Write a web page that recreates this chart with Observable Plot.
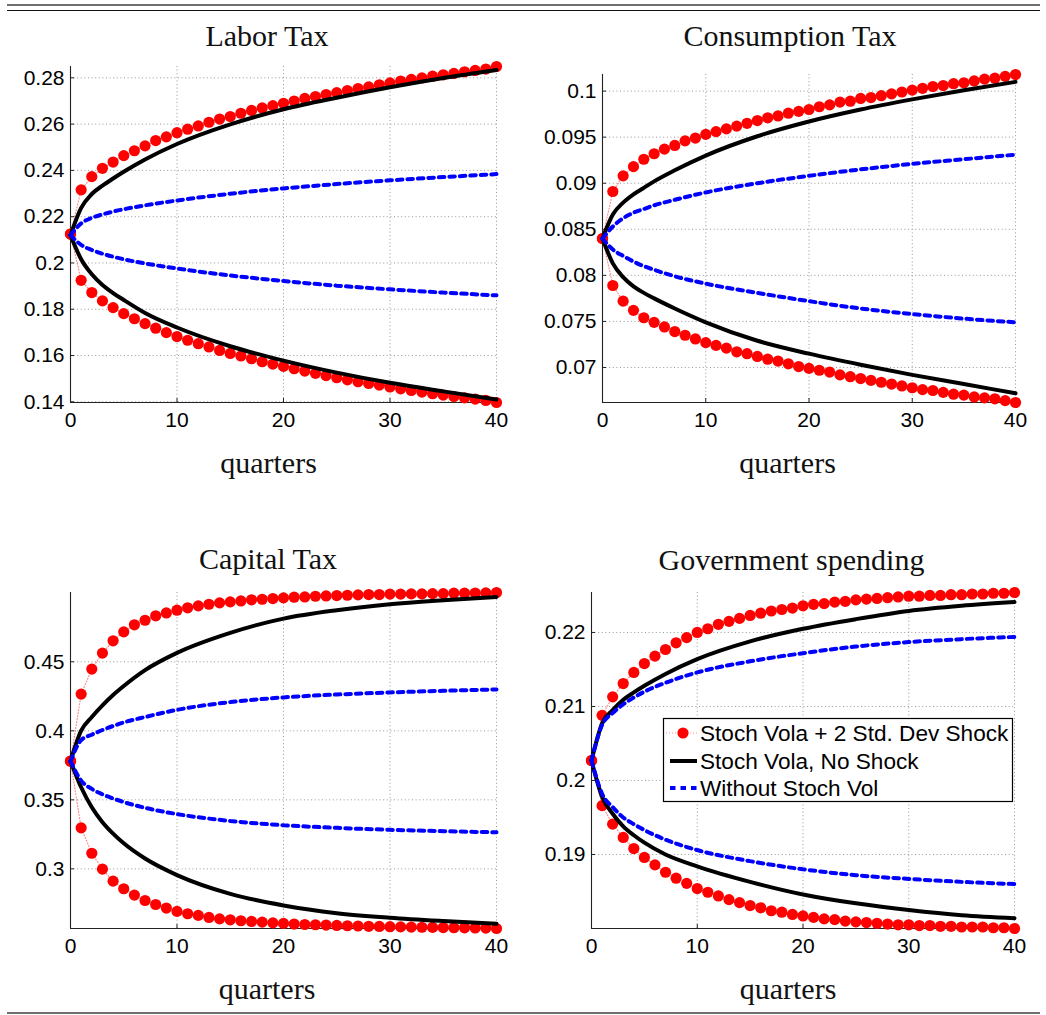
<!DOCTYPE html>
<html><head><meta charset="utf-8">
<script src="https://cdn.jsdelivr.net/npm/d3@7"></script>
<script src="https://cdn.jsdelivr.net/npm/@observablehq/plot@0.6"></script>
<style>
body{margin:0;background:#fff;}
#root{position:relative;width:1046px;height:1015px;overflow:hidden;background:#fff;}
.hrule{position:absolute;left:7px;width:1033px;}
.panel{position:absolute;}
.panel svg{overflow:visible;display:block;}
</style></head><body><div id="root">
<div class="hrule" style="top:4px;height:2px;background:#707070"></div>
<div class="hrule" style="top:10px;height:1.4px;background:#111"></div>
<div class="hrule" style="top:1012px;height:2px;background:#707070"></div>
</div>
<script>
// ---------------- data ----------------
const quarters = [0,1,2,3,4,5,6,7,8,9,10,11,12,13,14,15,16,17,18,19,20,21,22,23,24,25,26,27,28,29,30,31,32,33,34,35,36,37,38,39,40];
const lineQuarters = [0,1,2,3,4,5,7,10,15,20,25,30,35,40];
const xTicks = [0,10,20,30,40];
const panelTitles = ["Labor Tax","Consumption Tax","Capital Tax","Government spending"];
const xLabel = "quarters";
const legendLabels = ["Stoch Vola + 2 Std. Dev Shock","Stoch Vola, No Shock","Without Stoch Vol"];

// Labor Tax
const laborRedUp = [0.2125,0.2316,0.2373,0.2409,0.2436,0.2464,0.2485,0.2506,0.2529,0.2545,0.2563,0.2578,0.2592,0.2608,0.2622,0.2633,0.2647,0.2659,0.2670,0.2680,0.2690,0.2700,0.2711,0.2719,0.2728,0.2736,0.2745,0.2754,0.2761,0.2770,0.2778,0.2786,0.2793,0.2800,0.2807,0.2813,0.2819,0.2826,0.2832,0.2838,0.2849];
const laborRedLo = [0.2125,0.1925,0.1872,0.1836,0.1807,0.1781,0.1759,0.1738,0.1718,0.1699,0.1682,0.1666,0.1651,0.1637,0.1622,0.1609,0.1598,0.1586,0.1573,0.1563,0.1553,0.1543,0.1533,0.1523,0.1513,0.1504,0.1495,0.1487,0.1479,0.1472,0.1464,0.1456,0.1449,0.1442,0.1435,0.1429,0.1423,0.1417,0.1412,0.1406,0.1397];
const laborBlackUp = [0.2120,0.2238,0.2298,0.2334,0.2365,0.2394,0.2447,0.2514,0.2599,0.2664,0.2714,0.2759,0.2799,0.2834];
const laborBlackLo = [0.2120,0.2016,0.1951,0.1905,0.1870,0.1840,0.1784,0.1721,0.1640,0.1578,0.1526,0.1482,0.1445,0.1410];
const laborBlueUp = [0.2120,0.2171,0.2195,0.2210,0.2222,0.2232,0.2249,0.2270,0.2299,0.2322,0.2341,0.2357,0.2371,0.2384];
const laborBlueLo = [0.2120,0.2078,0.2056,0.2040,0.2027,0.2016,0.1998,0.1976,0.1946,0.1922,0.1902,0.1886,0.1872,0.1860];
const laborTicks = [0.14,0.16,0.18,0.2,0.22,0.24,0.26,0.28];

// Consumption Tax
const consRedUp = [0.0840,0.0891,0.0908,0.0918,0.0926,0.0932,0.0937,0.0941,0.0946,0.0949,0.0953,0.0956,0.0959,0.0962,0.0965,0.0968,0.0971,0.0973,0.0976,0.0978,0.0980,0.0983,0.0985,0.0988,0.0989,0.0992,0.0993,0.0995,0.0997,0.0999,0.1001,0.1003,0.1005,0.1006,0.1008,0.1009,0.1011,0.1013,0.1014,0.1016,0.1018];
const consRedLo = [0.0840,0.0789,0.0772,0.0762,0.0754,0.0749,0.0744,0.0739,0.0735,0.0731,0.0727,0.0724,0.0721,0.0717,0.0715,0.0712,0.0709,0.0707,0.0704,0.0701,0.0699,0.0697,0.0695,0.0692,0.0690,0.0688,0.0686,0.0684,0.0682,0.0680,0.0678,0.0676,0.0675,0.0673,0.0671,0.0670,0.0668,0.0667,0.0666,0.0664,0.0662];
const consBlackUp = [0.0840,0.0866,0.0879,0.0888,0.0895,0.0902,0.0914,0.0930,0.0951,0.0967,0.0980,0.0991,0.1001,0.1010];
const consBlackLo = [0.0840,0.0813,0.0798,0.0788,0.0781,0.0775,0.0764,0.0749,0.0729,0.0715,0.0703,0.0692,0.0682,0.0672];
const consBlueUp = [0.0840,0.0853,0.0862,0.0868,0.0872,0.0876,0.0882,0.0890,0.0900,0.0908,0.0915,0.0921,0.0926,0.0931];
const consBlueLo = [0.0840,0.0828,0.0821,0.0815,0.0810,0.0806,0.0799,0.0791,0.0781,0.0772,0.0764,0.0758,0.0753,0.0749];
const consTicks = [0.07,0.075,0.08,0.085,0.09,0.095,0.1];

// Capital Tax
const capRedUp = [0.3781,0.4266,0.4447,0.4563,0.4652,0.4717,0.4768,0.4801,0.4833,0.4854,0.4874,0.4891,0.4905,0.4917,0.4927,0.4934,0.4941,0.4949,0.4953,0.4958,0.4963,0.4968,0.4970,0.4975,0.4977,0.4980,0.4982,0.4985,0.4987,0.4987,0.4990,0.4990,0.4992,0.4992,0.4994,0.4994,0.4997,0.4997,0.4998,0.4999,0.5002];
const capRedLo = [0.3780,0.3297,0.3113,0.2998,0.2911,0.2856,0.2810,0.2771,0.2742,0.2716,0.2692,0.2675,0.2663,0.2648,0.2638,0.2631,0.2624,0.2619,0.2614,0.2609,0.2605,0.2600,0.2597,0.2595,0.2593,0.2590,0.2588,0.2586,0.2584,0.2583,0.2581,0.2580,0.2578,0.2577,0.2576,0.2575,0.2574,0.2573,0.2572,0.2571,0.2568];
const capBlackUp = [0.3780,0.4001,0.4100,0.4185,0.4260,0.4325,0.4440,0.4565,0.4710,0.4813,0.4874,0.4917,0.4946,0.4970];
const capBlackLo = [0.3780,0.3591,0.3446,0.3338,0.3255,0.3185,0.3075,0.2955,0.2819,0.2735,0.2679,0.2646,0.2622,0.2602];
const capBlueUp = [0.3780,0.3933,0.3972,0.4006,0.4035,0.4061,0.4100,0.4152,0.4208,0.4242,0.4263,0.4278,0.4290,0.4300];
const capBlueLo = [0.3780,0.3639,0.3579,0.3540,0.3510,0.3484,0.3442,0.3397,0.3347,0.3316,0.3297,0.3283,0.3273,0.3265];
const capTicks = [0.3,0.35,0.4,0.45];

// Government spending
const govRedUp = [0.2027,0.2088,0.2113,0.2131,0.2146,0.2158,0.2168,0.2177,0.2186,0.2193,0.2200,0.2205,0.2211,0.2215,0.2219,0.2223,0.2226,0.2229,0.2231,0.2233,0.2236,0.2238,0.2239,0.2241,0.2242,0.2244,0.2245,0.2246,0.2247,0.2248,0.2249,0.2249,0.2250,0.2250,0.2251,0.2251,0.2252,0.2252,0.2253,0.2253,0.2254];
const govRedLo = [0.2027,0.1966,0.1941,0.1923,0.1908,0.1896,0.1886,0.1876,0.1868,0.1861,0.1854,0.1849,0.1844,0.1839,0.1835,0.1831,0.1828,0.1824,0.1822,0.1819,0.1817,0.1815,0.1813,0.1812,0.1810,0.1809,0.1808,0.1807,0.1806,0.1805,0.1805,0.1804,0.1804,0.1803,0.1803,0.1802,0.1802,0.1802,0.1801,0.1801,0.1800];
const govBlackUp = [0.2027,0.2077,0.2095,0.2109,0.2119,0.2128,0.2144,0.2164,0.2188,0.2205,0.2218,0.2229,0.2236,0.2241];
const govBlackLo = [0.2027,0.1978,0.1955,0.1938,0.1926,0.1916,0.1900,0.1884,0.1863,0.1846,0.1834,0.1825,0.1818,0.1814];
const govBlueUp = [0.2027,0.2075,0.2091,0.2103,0.2112,0.2120,0.2132,0.2146,0.2161,0.2172,0.2181,0.2187,0.2191,0.2194];
const govBlueLo = [0.2027,0.1982,0.1964,0.1950,0.1941,0.1933,0.1920,0.1906,0.1891,0.1880,0.1872,0.1867,0.1863,0.1860];
const govTicks = [0.19,0.2,0.21,0.22];

// ---------------- layout ----------------
const RED = "#ff0000", BLACK = "#000000", BLUE = "#0000ff";
const SANS = "'Liberation Sans', Arial, Helvetica, sans-serif";
const SERIF = "'Liberation Serif', 'Times New Roman', serif";

const panels = [
  {title: panelTitles[0], redUp: laborRedUp, redLo: laborRedLo, blackUp: laborBlackUp, blackLo: laborBlackLo, blueUp: laborBlueUp, blueLo: laborBlueLo, yTicks: laborTicks,
   box: {left: 0, top: 15, width: 523, height: 480}, frame: {x0: 70, x1: 496, y0: 66, y1: 402}, titleC: 266.5, titleB: 45, labelC: 268, labelB: 472},
  {title: panelTitles[1], redUp: consRedUp, redLo: consRedLo, blackUp: consBlackUp, blackLo: consBlackLo, blueUp: consBlueUp, blueLo: consBlueLo, yTicks: consTicks,
   box: {left: 523, top: 15, width: 523, height: 480}, frame: {x0: 602, x1: 1015, y0: 74, y1: 402}, titleC: 789.5, titleB: 45, labelC: 787, labelB: 472},
  {title: panelTitles[2], redUp: capRedUp, redLo: capRedLo, blackUp: capBlackUp, blackLo: capBlackLo, blueUp: capBlueUp, blueLo: capBlueLo, yTicks: capTicks,
   box: {left: 0, top: 530, width: 523, height: 478}, frame: {x0: 70, x1: 496, y0: 592, y1: 928}, titleC: 267.5, titleB: 568, labelC: 266.5, labelB: 998},
  {title: panelTitles[3], redUp: govRedUp, redLo: govRedLo, blackUp: govBlackUp, blackLo: govBlackLo, blueUp: govBlueUp, blueLo: govBlueLo, yTicks: govTicks,
   box: {left: 523, top: 530, width: 523, height: 478}, frame: {x0: 591, x1: 1014, y0: 592, y1: 928}, titleC: 791, titleB: 569, labelC: 787.5, labelB: 998}
];

const root = document.getElementById("root");

function series(xs, ys) { return ys.map((v, i) => ({x: xs[i], y: v})); }

function makePanel(p) {
  const [ymin, ymax] = d3.extent([...p.redUp, ...p.redLo]);
  const f = p.frame, b = p.box;
  const fw = f.x1 - f.x0, fh = f.y1 - f.y0;
  const tickX = 40 * 4 / fw;           // 4px inward tick, in x units
  const tickY = (ymax - ymin) * 4 / fh; // 4px inward tick, in y units
  const fcx = (f.x0 + f.x1) / 2;
  const grid = {stroke: "#8c8c8c", strokeWidth: 0.9, strokeDasharray: "1,2.6"};
  const lineOpts = (stroke, extra) => Object.assign({x: "x", y: "y", stroke, strokeWidth: 4, curve: "monotone-x", strokeLinejoin: "round"}, extra || {});
  const redUp = series(quarters, p.redUp), redLo = series(quarters, p.redLo);
  const plot = Plot.plot({
    width: b.width, height: b.height,
    marginLeft: f.x0 - b.left, marginRight: b.left + b.width - f.x1,
    marginTop: f.y0 - b.top, marginBottom: b.top + b.height - f.y1,
    x: {domain: [0, 40], ticks: xTicks, tickSize: 0, tickPadding: 10, label: null, tickFormat: d => String(d)},
    y: {domain: [ymin, ymax], ticks: p.yTicks, tickSize: 0, tickPadding: 6, label: null, tickFormat: d => String(+d.toFixed(4))},
    style: {fontFamily: SANS, fontSize: "21px", color: "#000", background: "transparent", overflow: "visible"},
    marks: [
      Plot.ruleY(p.yTicks, grid),
      Plot.ruleX(xTicks.filter(d => d > 0), grid),
      Plot.ruleX([0], {stroke: "#222", strokeWidth: 1.1}),
      Plot.ruleY([ymin], {stroke: "#222", strokeWidth: 1.1}),
      Plot.ruleY(p.yTicks, {x1: 0, x2: tickX, stroke: "#222", strokeWidth: 1}),
      Plot.ruleX(xTicks, {y1: ymin, y2: ymin + tickY, stroke: "#222", strokeWidth: 1}),
      // red dotted connector + dots
      Plot.line(redUp, {x: "x", y: "y", stroke: RED, strokeWidth: 1.2, strokeDasharray: "1,2", strokeOpacity: 0.45}),
      Plot.line(redLo, {x: "x", y: "y", stroke: RED, strokeWidth: 1.2, strokeDasharray: "1,2", strokeOpacity: 0.45}),
      Plot.dot(redUp, {x: "x", y: "y", r: 5.6, fill: RED}),
      Plot.dot(redLo, {x: "x", y: "y", r: 5.6, fill: RED}),
      // black solid
      Plot.line(series(lineQuarters, p.blackUp), lineOpts(BLACK)),
      Plot.line(series(lineQuarters, p.blackLo), lineOpts(BLACK)),
      // blue dashed
      Plot.line(series(lineQuarters, p.blueUp), lineOpts(BLUE, {strokeDasharray: "5.5,5", strokeLinejoin: "miter"})),
      Plot.line(series(lineQuarters, p.blueLo), lineOpts(BLUE, {strokeDasharray: "5.5,5", strokeLinejoin: "miter"})),
      // title & x label
      Plot.text([p.title], {text: d => d, frameAnchor: "top", dx: p.titleC - fcx, dy: p.titleB - f.y0, lineAnchor: "bottom", fontFamily: SERIF, fontSize: 30, fill: "#111"}),
      Plot.text([xLabel], {text: d => d, frameAnchor: "bottom", dx: p.labelC - fcx, dy: p.labelB - f.y1, lineAnchor: "bottom", fontFamily: SERIF, fontSize: 30, fill: "#111"})
    ]
  });
  const div = document.createElement("div");
  div.className = "panel";
  div.style.left = b.left + "px";
  div.style.top = b.top + "px";
  div.style.width = b.width + "px";
  div.style.height = b.height + "px";
  div.appendChild(plot);
  root.appendChild(div);
}

panels.forEach(makePanel);

// ---------------- legend (Government spending panel) ----------------
(function legend() {
  const L = {left: 663, top: 718, width: 350, height: 84};
  const svg = d3.create("svg").attr("width", L.width).attr("height", L.height)
    .style("position", "absolute").style("left", L.left + "px").style("top", L.top + "px").style("overflow", "visible");
  svg.append("rect").attr("x", 0.5).attr("y", 0.5).attr("width", L.width - 1).attr("height", L.height - 1)
    .attr("fill", "#fff").attr("stroke", "#000").attr("stroke-width", 1.2);
  const rowY = [15, 43, 70];
  svg.append("line").attr("x1", 3).attr("x2", 34).attr("y1", rowY[0]).attr("y2", rowY[0])
    .attr("stroke", RED).attr("stroke-width", 1.2).attr("stroke-dasharray", "1,2").attr("stroke-opacity", 0.45);
  svg.append("circle").attr("cx", 20).attr("cy", rowY[0]).attr("r", 5.6).attr("fill", RED);
  svg.append("line").attr("x1", 7).attr("x2", 34).attr("y1", rowY[1]).attr("y2", rowY[1])
    .attr("stroke", BLACK).attr("stroke-width", 4);
  svg.append("line").attr("x1", 7).attr("x2", 34).attr("y1", rowY[2]).attr("y2", rowY[2])
    .attr("stroke", BLUE).attr("stroke-width", 4).attr("stroke-dasharray", "5.5,5");
  legendLabels.forEach((t, i) => {
    svg.append("text").attr("x", 37).attr("y", rowY[i]).attr("dy", "0.35em")
      .attr("font-family", SANS).attr("font-size", 22.6).attr("fill", "#000").text(t);
  });
  root.appendChild(svg.node());
})();
</script>
</body></html>
